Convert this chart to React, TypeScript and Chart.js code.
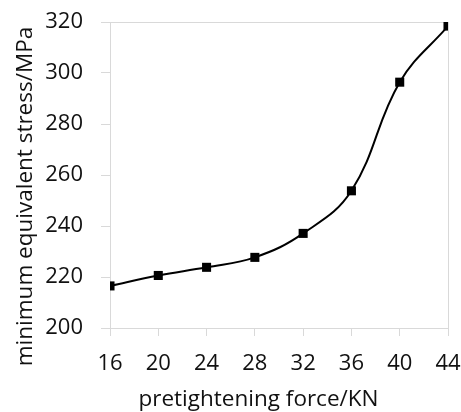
import React, { useEffect, useRef } from "react";
import { Chart, registerables } from "chart.js";

Chart.register(...registerables);

const forceKN = [16, 20, 24, 28, 32, 36, 40, 44];
const stressMPa = [216.5, 220.6, 223.8, 227.7, 237.1, 253.8, 296.4, 318.4];
const xTicks = [16, 20, 24, 28, 32, 36, 40, 44];
const yTicks = [200, 220, 240, 260, 280, 300, 320];
const xTitle = "pretightening force/KN";
const yTitle = "minimum equivalent stress/MPa";

const FONT = "'Open Sans'";
const GRAY = "#d9d9d9";
const TEXT = "#111";

const axisTitles = {
  id: "axisTitles",
  afterDraw(chart: any) {
    const { ctx } = chart;
    ctx.save();
    ctx.fillStyle = TEXT;
    ctx.font = `500 22.5px ${FONT}`;
    ctx.textAlign = "center";
    ctx.textBaseline = "alphabetic";
    ctx.fillText(xTitle, 258.5, 406);
    ctx.translate(32, 196.5);
    ctx.rotate(-Math.PI / 2);
    ctx.fillText(yTitle, 0, 0);
    ctx.restore();
  },
};

const noPad = (s: any) => {
  s.paddingTop = 0;
  s.paddingBottom = 0;
  s.paddingLeft = 0;
  s.paddingRight = 0;
};

export default function App() {
  const ref = useRef<HTMLCanvasElement | null>(null);
  useEffect(() => {
    if (!ref.current) return;
    const chart = new Chart(ref.current, {
      type: "line",
      data: {
        datasets: [
          {
            data: forceKN.map((x, i) => ({ x, y: stressMPa[i] })),
            borderColor: "#000",
            backgroundColor: "#000",
            borderWidth: 2,
            tension: 0.4,
            pointStyle: "rect",
            pointRadius: 6.4,
            pointBackgroundColor: "#000",
            pointBorderWidth: 0,
          },
        ],
      },
      options: {
        responsive: false,
        animation: false,
        layout: { padding: { top: 22, right: 13, left: 0, bottom: 0 } },
        plugins: { legend: { display: false }, tooltip: { enabled: false } },
        scales: {
          x: {
            type: "linear",
            min: xTicks[0],
            max: xTicks[xTicks.length - 1],
            afterBuildTicks: (s: any) => {
              s.ticks = xTicks.map((v) => ({ value: v }));
            },
            afterFit: (s: any) => {
              s.height = 84;
              noPad(s);
            },
            grid: {
              color: (c: any) => (c.tick && c.tick.value === xTicks[xTicks.length - 1] ? GRAY : "rgba(0,0,0,0)"),
              tickColor: GRAY,
              tickLength: 8,
              lineWidth: 1,
            },
            border: { color: GRAY, width: 1 },
            ticks: {
              color: TEXT,
              font: { family: FONT, size: 22, weight: "500" },
              padding: 15,
              maxRotation: 0,
              autoSkip: false,
            },
          },
          y: {
            min: yTicks[0],
            max: yTicks[yTicks.length - 1],
            afterBuildTicks: (s: any) => {
              s.ticks = yTicks.map((v) => ({ value: v }));
            },
            afterFit: (s: any) => {
              s.width = 110;
              noPad(s);
            },
            grid: {
              color: (c: any) => (c.tick && c.tick.value === yTicks[yTicks.length - 1] ? GRAY : "rgba(0,0,0,0)"),
              tickColor: GRAY,
              tickLength: 9,
              lineWidth: 1,
            },
            border: { color: GRAY, width: 1 },
            ticks: {
              color: TEXT,
              font: { family: FONT, size: 22, weight: "500" },
              padding: 18,
            },
          },
        },
      },
      plugins: [axisTitles],
    });
    return () => chart.destroy();
  }, []);
  return (
    <div style={{ position: "fixed", left: 0, top: 0, width: 461, height: 412, background: "#fff" }}>
      <canvas ref={ref} width={461} height={412} />
    </div>
  );
}
